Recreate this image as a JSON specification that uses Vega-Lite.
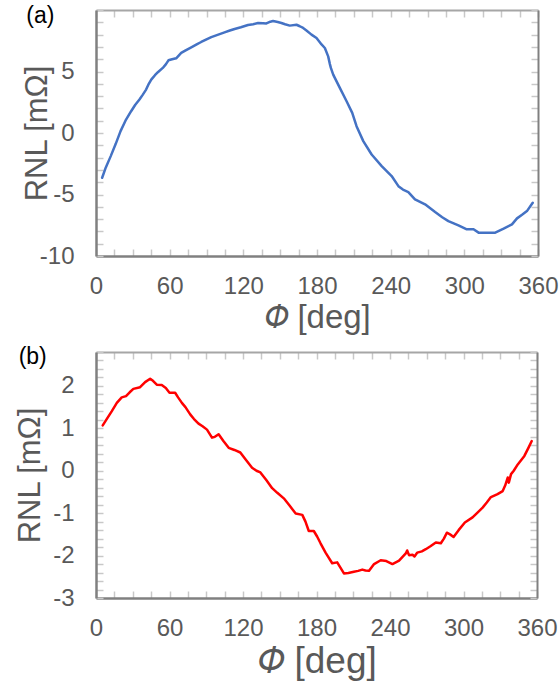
{
  "$schema": "https://vega.github.io/schema/vega-lite/v6.json",
  "padding": {"top": 5, "left": 14, "right": 6, "bottom": 2},
  "spacing": 12,
  "config": {
    "font": "Liberation Sans",
    "view": {"stroke": null},
    "axis": {
      "grid": false,
      "labelFont": "Liberation Sans",
      "titleFont": "Liberation Sans",
      "labelColor": "#595959",
      "titleColor": "#595959",
      "labelFontSize": 24,
      "titleFontWeight": "normal",
      "ticks": true,
      "tickColor": "#c8c8c8",
      "tickWidth": 1.5,
      "tickSize": -7,
      "domainColor": "#808080",
      "domainWidth": 2.5
    },
    "title": {"font": "Liberation Sans", "fontWeight": "normal", "color": "#000000", "fontSize": 23}
  },
  "datasets": {
    "a": [
      {"phi": 5, "r": -3.64}, {"phi": 8, "r": -2.8}, {"phi": 12, "r": -1.88}, {"phi": 16, "r": -0.9},
      {"phi": 20, "r": 0.15}, {"phi": 24, "r": 1.0}, {"phi": 28.6, "r": 1.77}, {"phi": 32, "r": 2.3},
      {"phi": 35.4, "r": 2.72}, {"phi": 38, "r": 3.1}, {"phi": 40.8, "r": 3.53}, {"phi": 43, "r": 4.0},
      {"phi": 45, "r": 4.34}, {"phi": 48, "r": 4.7}, {"phi": 50.4, "r": 4.94}, {"phi": 54.4, "r": 5.29},
      {"phi": 57, "r": 5.6}, {"phi": 59, "r": 5.91}, {"phi": 62, "r": 6.0}, {"phi": 65.3, "r": 6.07},
      {"phi": 69.4, "r": 6.51}, {"phi": 73, "r": 6.72}, {"phi": 77.6, "r": 6.96}, {"phi": 82, "r": 7.2},
      {"phi": 85.7, "r": 7.4}, {"phi": 90, "r": 7.62}, {"phi": 93.9, "r": 7.8}, {"phi": 99, "r": 7.98},
      {"phi": 104.7, "r": 8.18}, {"phi": 109, "r": 8.33}, {"phi": 112.9, "r": 8.46}, {"phi": 118, "r": 8.6},
      {"phi": 123.8, "r": 8.78}, {"phi": 128, "r": 8.84}, {"phi": 132, "r": 8.94}, {"phi": 136, "r": 8.93},
      {"phi": 138.8, "r": 8.91}, {"phi": 142, "r": 9.05}, {"phi": 144.2, "r": 9.1}, {"phi": 148, "r": 9.02},
      {"phi": 151, "r": 8.94}, {"phi": 154, "r": 8.84}, {"phi": 157.8, "r": 8.73}, {"phi": 163.3, "r": 8.8},
      {"phi": 166, "r": 8.68}, {"phi": 168.7, "r": 8.54}, {"phi": 171.4, "r": 8.34}, {"phi": 175.5, "r": 8.0},
      {"phi": 179.6, "r": 7.72}, {"phi": 183.7, "r": 7.2}, {"phi": 186.4, "r": 6.91}, {"phi": 189.1, "r": 6.23},
      {"phi": 190.5, "r": 5.6}, {"phi": 191.3, "r": 5.29}, {"phi": 193.2, "r": 4.75}, {"phi": 198.6, "r": 3.67},
      {"phi": 204.1, "r": 2.58}, {"phi": 208.7, "r": 1.64}, {"phi": 212.2, "r": 0.55}, {"phi": 217.7, "r": -0.66},
      {"phi": 224.5, "r": -1.75}, {"phi": 232.7, "r": -2.69}, {"phi": 240.8, "r": -3.5}, {"phi": 246.3, "r": -4.32},
      {"phi": 250, "r": -4.6}, {"phi": 254.4, "r": -4.8}, {"phi": 259.8, "r": -5.4}, {"phi": 268, "r": -5.8},
      {"phi": 276.2, "r": -6.43}, {"phi": 282, "r": -6.85}, {"phi": 287, "r": -7.16}, {"phi": 295.2, "r": -7.51},
      {"phi": 302, "r": -7.83}, {"phi": 307.5, "r": -7.83}, {"phi": 311.6, "r": -8.1}, {"phi": 318, "r": -8.1},
      {"phi": 325.2, "r": -8.1}, {"phi": 332, "r": -7.78}, {"phi": 338.8, "r": -7.43}, {"phi": 342.9, "r": -6.94},
      {"phi": 347, "r": -6.65}, {"phi": 351, "r": -6.35}, {"phi": 355.7, "r": -5.67}
    ],
    "b": [
      {"phi": 5.5, "r": 1.07}, {"phi": 9, "r": 1.23}, {"phi": 12.8, "r": 1.4}, {"phi": 17, "r": 1.6},
      {"phi": 21, "r": 1.73}, {"phi": 24.5, "r": 1.76}, {"phi": 27.5, "r": 1.85}, {"phi": 30.5, "r": 1.93},
      {"phi": 36, "r": 1.97}, {"phi": 40.1, "r": 2.09}, {"phi": 44.2, "r": 2.17}, {"phi": 46.5, "r": 2.12},
      {"phi": 49.6, "r": 2.03}, {"phi": 53.7, "r": 2.02}, {"phi": 57, "r": 1.95}, {"phi": 60, "r": 1.84},
      {"phi": 64.6, "r": 1.84}, {"phi": 67, "r": 1.73}, {"phi": 70.1, "r": 1.6}, {"phi": 73, "r": 1.5},
      {"phi": 76.9, "r": 1.33}, {"phi": 80, "r": 1.22}, {"phi": 83.7, "r": 1.11}, {"phi": 87, "r": 1.05},
      {"phi": 90.6, "r": 0.97}, {"phi": 94.7, "r": 0.78}, {"phi": 97, "r": 0.8}, {"phi": 100.1, "r": 0.86},
      {"phi": 104, "r": 0.7}, {"phi": 108.3, "r": 0.54}, {"phi": 113, "r": 0.49}, {"phi": 117.8, "r": 0.43},
      {"phi": 122, "r": 0.27}, {"phi": 127.4, "r": 0.07}, {"phi": 131, "r": 0.0}, {"phi": 134.2, "r": -0.04},
      {"phi": 139, "r": -0.22}, {"phi": 143.8, "r": -0.41}, {"phi": 148, "r": -0.52}, {"phi": 153.3, "r": -0.65},
      {"phi": 158, "r": -0.82}, {"phi": 163, "r": -1.01}, {"phi": 168.4, "r": -1.04}, {"phi": 171, "r": -1.2},
      {"phi": 173.7, "r": -1.42}, {"phi": 177.8, "r": -1.42}, {"phi": 180.5, "r": -1.55}, {"phi": 183.3, "r": -1.71},
      {"phi": 187.4, "r": -1.93}, {"phi": 192.8, "r": -2.18}, {"phi": 196.9, "r": -2.16}, {"phi": 202.4, "r": -2.42},
      {"phi": 206, "r": -2.41}, {"phi": 210.5, "r": -2.38}, {"phi": 214, "r": -2.36}, {"phi": 217.4, "r": -2.33},
      {"phi": 220, "r": -2.35}, {"phi": 222.9, "r": -2.36}, {"phi": 227, "r": -2.2}, {"phi": 232.4, "r": -2.11},
      {"phi": 237, "r": -2.13}, {"phi": 242, "r": -2.2}, {"phi": 247.4, "r": -2.12}, {"phi": 252.9, "r": -1.95},
      {"phi": 254, "r": -1.88}, {"phi": 255.5, "r": -1.99}, {"phi": 258.4, "r": -1.98}, {"phi": 260, "r": -2.02},
      {"phi": 262.3, "r": -1.93}, {"phi": 266, "r": -1.9}, {"phi": 269.2, "r": -1.85}, {"phi": 273, "r": -1.78},
      {"phi": 277.4, "r": -1.69}, {"phi": 281.5, "r": -1.71}, {"phi": 284, "r": -1.6}, {"phi": 286.4, "r": -1.46},
      {"phi": 289, "r": -1.5}, {"phi": 291.9, "r": -1.56}, {"phi": 296, "r": -1.4}, {"phi": 301.1, "r": -1.22},
      {"phi": 307.4, "r": -1.1}, {"phi": 311, "r": -1.0}, {"phi": 315.6, "r": -0.87}, {"phi": 319, "r": -0.75},
      {"phi": 322.4, "r": -0.62}, {"phi": 327.8, "r": -0.55}, {"phi": 332, "r": -0.48}, {"phi": 334, "r": -0.35},
      {"phi": 336.1, "r": -0.16}, {"phi": 337, "r": -0.28}, {"phi": 338.8, "r": -0.08}, {"phi": 341, "r": 0.0},
      {"phi": 344.3, "r": 0.15}, {"phi": 349.7, "r": 0.35}, {"phi": 353, "r": 0.54}, {"phi": 355.7, "r": 0.7}
    ]
  },
  "vconcat": [
    {
      "width": 442,
      "height": 246,
      "title": {"text": "(a)", "anchor": "start", "frame": "bounds", "offset": 0, "dx": 5, "dy": 19},
      "resolve": {"axis": {"x": "independent", "y": "independent"}},
      "layer": [
        {
          "data": {"name": "a"},
          "mark": {"type": "line", "color": "#4472C4", "strokeWidth": 2.5, "strokeJoin": "round", "strokeCap": "round"},
          "encoding": {
            "x": {"field": "phi", "type": "quantitative", "scale": {"domain": [0, 360], "nice": false},
              "axis": {"orient": "bottom", "values": [0,15,30,45,60,75,90,105,120,135,150,165,180,195,210,225,240,255,270,285,300,315,330,345,360],
                "labelExpr": "datum.value % 60 === 0 ? datum.label : ''", "labelPadding": 25, "labelFlush": false,
                "title": "𝛷 [deg]", "titleFontSize": 33, "titlePadding": 3}},
            "y": {"field": "r", "type": "quantitative", "scale": {"domain": [-10, 10], "nice": false},
              "axis": {"orient": "left", "values": [-10,-9,-8,-7,-6,-5,-4,-3,-2,-1,0,1,2,3,4,5,6,7,8,9,10],
                "labelExpr": "datum.value % 5 === 0 && datum.value < 10 ? replace(datum.label, '−', '-') : ''", "labelPadding": 29,
                "title": "RNL [mΩ]", "titleFontSize": 31, "titlePadding": -14}}
          }
        },
        {
          "data": {"name": "a"},
          "mark": {"type": "line", "opacity": 0},
          "encoding": {
            "x": {"field": "phi", "type": "quantitative",
              "axis": {"orient": "top", "values": [0,15,30,45,60,75,90,105,120,135,150,165,180,195,210,225,240,255,270,285,300,315,330,345,360],
                "labels": false, "title": null, "domainColor": "#a6a6a6", "domainWidth": 2}},
            "y": {"field": "r", "type": "quantitative",
              "axis": {"orient": "right", "values": [-10,-9,-8,-7,-6,-5,-4,-3,-2,-1,0,1,2,3,4,5,6,7,8,9,10],
                "labels": false, "title": null, "domainWidth": 2}}
          }
        }
      ]
    },
    {
      "width": 441,
      "height": 246,
      "title": {"text": "(b)", "anchor": "start", "frame": "bounds", "offset": 0, "dx": 4, "dy": 18},
      "resolve": {"axis": {"x": "independent", "y": "independent"}},
      "layer": [
        {
          "data": {"name": "b"},
          "mark": {"type": "line", "color": "#FF0000", "strokeWidth": 2.5, "strokeJoin": "round", "strokeCap": "round"},
          "encoding": {
            "x": {"field": "phi", "type": "quantitative", "scale": {"domain": [0, 360], "nice": false},
              "axis": {"orient": "bottom", "values": [0,15,30,45,60,75,90,105,120,135,150,165,180,195,210,225,240,255,270,285,300,315,330,345,360],
                "labelExpr": "datum.value % 60 === 0 ? datum.label : ''", "labelPadding": 25, "labelFlush": false,
                "title": "𝛷 [deg]", "titleFontSize": 37, "titlePadding": 3}},
            "y": {"field": "r", "type": "quantitative", "scale": {"domain": [-3, 2.8], "nice": false, "zero": false},
              "axis": {"orient": "left", "values": [-3,-2.8,-2.6,-2.4,-2.2,-2,-1.8,-1.6,-1.4,-1.2,-1,-0.8,-0.6,-0.4,-0.2,0,0.2,0.4,0.6,0.8,1,1.2,1.4,1.6,1.8,2,2.2,2.4,2.6,2.8],
                "labelExpr": "abs(datum.value - round(datum.value)) < 0.001 ? replace(format(round(datum.value), 'd'), '−', '-') : ''", "labelPadding": 29,
                "title": "RNL [mΩ]", "titleFontSize": 31, "titlePadding": 6}}
          }
        },
        {
          "data": {"name": "b"},
          "mark": {"type": "line", "opacity": 0},
          "encoding": {
            "x": {"field": "phi", "type": "quantitative",
              "axis": {"orient": "top", "values": [0,15,30,45,60,75,90,105,120,135,150,165,180,195,210,225,240,255,270,285,300,315,330,345,360],
                "labels": false, "title": null, "domainColor": "#a6a6a6", "domainWidth": 2}},
            "y": {"field": "r", "type": "quantitative",
              "axis": {"orient": "right", "values": [-3,-2.8,-2.6,-2.4,-2.2,-2,-1.8,-1.6,-1.4,-1.2,-1,-0.8,-0.6,-0.4,-0.2,0,0.2,0.4,0.6,0.8,1,1.2,1.4,1.6,1.8,2,2.2,2.4,2.6,2.8],
                "labels": false, "title": null, "domainWidth": 2}}
          }
        }
      ]
    }
  ]
}
